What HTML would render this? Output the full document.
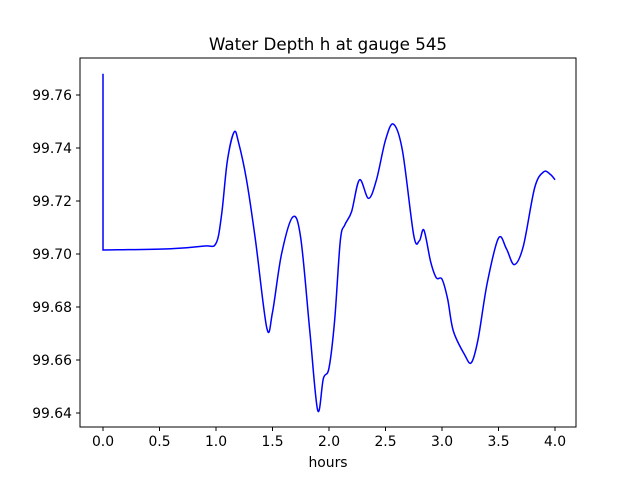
<!DOCTYPE html>
<html><head><meta charset="utf-8"><style>
body{margin:0;background:#fff;font-family:"DejaVu Sans","Liberation Sans",sans-serif;}
svg text{font-family:"DejaVu Sans","Liberation Sans",sans-serif;}
</style></head><body>
<svg id="chart" width="640" height="480" xmlns="http://www.w3.org/2000/svg">
<rect width="640" height="480" fill="#fff"/>
<text x="328" y="50" text-anchor="middle" font-size="16.7">Water Depth h at gauge 545</text>
<g id="plot"></g>
<rect x="80" y="58" width="496" height="369" fill="none" stroke="#000" stroke-width="1"/>
<text x="328" y="467" text-anchor="middle" font-size="13.9">hours</text>
</svg>
<script>
const hours=[0,0.0001,0.6,0.9,1.0,1.05,1.1,1.16,1.2,1.27,1.35,1.45,1.5,1.58,1.68,1.75,1.83,1.9,1.95,2.0,2.05,2.1,2.14,2.2,2.27,2.35,2.42,2.5,2.57,2.65,2.75,2.8,2.84,2.9,2.95,3.0,3.05,3.1,3.2,3.26,3.32,3.4,3.5,3.57,3.64,3.72,3.82,3.9,3.96,4.0];
const depth=[99.768,99.7015,99.702,99.703,99.704,99.715,99.735,99.746,99.742,99.728,99.705,99.672,99.678,99.700,99.714,99.706,99.671,99.641,99.653,99.657,99.675,99.705,99.711,99.716,99.728,99.721,99.728,99.743,99.749,99.739,99.707,99.705,99.709,99.697,99.691,99.6905,99.683,99.671,99.662,99.659,99.668,99.689,99.706,99.702,99.696,99.703,99.725,99.731,99.730,99.728];
const xTicks=[0,0.5,1,1.5,2,2.5,3,3.5,4];
const xTickLabels=["0.0","0.5","1.0","1.5","2.0","2.5","3.0","3.5","4.0"];
const yTicks=[99.64,99.66,99.68,99.70,99.72,99.74,99.76];
const yTickLabels=["99.64","99.66","99.68","99.70","99.72","99.74","99.76"];
const X=v=>103+v*113, Y=v=>254-(v-99.70)*2650;
const g=document.getElementById('plot'), NS='http://www.w3.org/2000/svg';
function mk(t,a){const e=document.createElementNS(NS,t);for(const k in a)e.setAttribute(k,a[k]);g.appendChild(e);return e;}
xTicks.forEach((v,i)=>{
 const l=mk('line',{x1:X(v),x2:X(v),y1:427,y2:431,stroke:'#000'});
 
 
 const t=mk('text',{x:X(v),y:446,'text-anchor':'middle','font-size':13.9});
 
 
 t.textContent=xTickLabels[i];
});
yTicks.forEach((v,i)=>{
 const l=mk('line',{x1:76,x2:80,y1:Y(v),y2:Y(v),stroke:'#000'});
 
 
 const t=mk('text',{x:72,y:Y(v)+5,'text-anchor':'end','font-size':13.9});
 
 
 t.textContent=yTickLabels[i];
});
const pts=hours.map((h,i)=>[X(h),Y(depth[i])]);
let d='M'+pts[0][0]+','+pts[0][1]+' L'+pts[1][0]+','+pts[1][1];
for(let i=1;i<pts.length-1;i++){
 const p0=pts[Math.max(1,i-1)],p1=pts[i],p2=pts[i+1],p3=pts[Math.min(pts.length-1,i+2)];
 const c1=[p1[0]+(p2[0]-p0[0])/6,p1[1]+(p2[1]-p0[1])/6],c2=[p2[0]-(p3[0]-p1[0])/6,p2[1]-(p3[1]-p1[1])/6];
 d+=` C${c1[0]},${c1[1]} ${c2[0]},${c2[1]} ${p2[0]},${p2[1]}`;
}
const line=mk('path',{d:d,fill:'none',stroke:'#0000ff','stroke-width':1.5});


</script>
</body></html>
